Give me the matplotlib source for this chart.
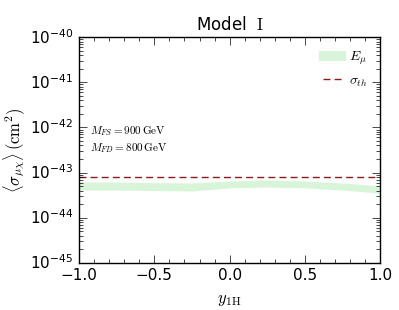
import numpy as np
import matplotlib
matplotlib.use('Agg')
import matplotlib.pyplot as plt
from matplotlib.ticker import MultipleLocator, LogLocator, NullFormatter, FixedLocator
import matplotlib.patches as mpatches
import matplotlib.lines as mlines

plt.style.use('classic')
plt.rcParams['mathtext.fontset'] = 'cm'

# band of E_mu (lower / upper edge) against y_1H
y1h = [-1.0, -0.75, -0.5, -0.25, 0.0, 0.25, 0.5, 0.75, 1.0]
band_top = [6.2e-44, 6.2e-44, 6.0e-44, 5.9e-44, 6.5e-44, 6.9e-44, 6.5e-44, 5.9e-44, 5.1e-44]
band_low = [4.1e-44, 4.1e-44, 4.0e-44, 3.9e-44, 4.6e-44, 4.8e-44, 4.6e-44, 4.1e-44, 3.5e-44]
sigma_th = 8.1e-44
y_major = [1e-45, 1e-44, 1e-43, 1e-42, 1e-41, 1e-40]

fig = plt.figure(figsize=(3.99, 3.10), dpi=100, facecolor='white')
ax = fig.add_axes([0.198, 0.152, 0.755, 0.728])

ax.fill_between(y1h, band_low, band_top, color='#d9f5d9', lw=0)
ax.axhline(sigma_th, color='#8b1a1a', ls='--', lw=1.0, dashes=(5, 3))

ax.set_yscale('log')
ax.set_xlim(-1, 1)
ax.set_ylim(1e-45, 1e-40)
ax.xaxis.set_major_locator(MultipleLocator(0.5))
ax.xaxis.set_minor_locator(MultipleLocator(0.1))
ax.yaxis.set_major_locator(FixedLocator(y_major))
ax.yaxis.set_minor_locator(LogLocator(base=10, subs=np.arange(2, 10), numticks=20))
ax.yaxis.set_minor_formatter(NullFormatter())
ax.tick_params(which='both', direction='in', top=True, right=True)
ax.tick_params(which='major', length=6, labelsize=11)
ax.tick_params(which='minor', length=3)
fig.canvas.draw()
for lab in ax.get_yticklabels() + ax.get_xticklabels():
    lab.set_fontfamily('DejaVu Sans')
    lab.set_math_fontfamily('dejavusans')

ax.set_title(r'Model  $\mathrm{I}$', fontsize=12, fontfamily='DejaVu Sans')
ax.set_xlabel(r'$y_{1\mathrm{H}}$', fontsize=12)
ax.set_ylabel(r'$\langle\sigma_{\mu\chi}\rangle\,(\mathrm{cm}^2)$', fontsize=12, labelpad=2)

ax.text(0.035, 0.57, r'$M_{FS}=900\,\mathrm{GeV}$', transform=ax.transAxes, fontsize=8)
ax.text(0.035, 0.495, r'$M_{FD}=800\,\mathrm{GeV}$', transform=ax.transAxes, fontsize=8)

h1 = mpatches.Patch(color='#d9f5d9', lw=0, label=r'$E_{\mu}$')
h2 = mlines.Line2D([], [], color='#8b1a1a', ls='--', lw=1.0, dashes=(5, 3), label=r'$\sigma_{th}$')
ax.legend(handles=[h1, h2], loc='upper right', frameon=False, fontsize=10,
          handlelength=2.0, handletextpad=0.2, borderaxespad=0.5, labelspacing=0.45)

fig.savefig('out.png', dpi=100, facecolor='white')
